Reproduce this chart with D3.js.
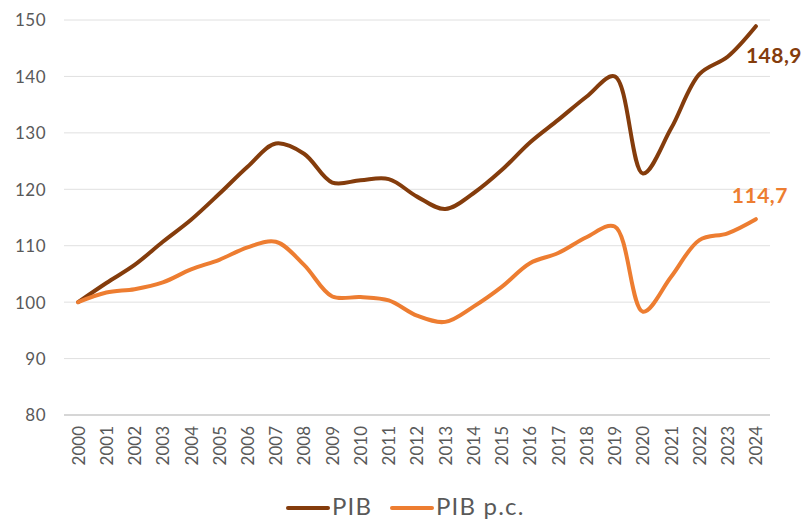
<!DOCTYPE html>
<html><head><meta charset="utf-8">
<script src="https://cdn.jsdelivr.net/npm/d3@7"></script>
<style>body{margin:0;background:#fff;} svg{display:block;font-family:Lato,"Open Sans",sans-serif;}</style>
</head><body>
<svg id="c" width="803" height="521"></svg>
<script>
const years = ["2000","2001","2002","2003","2004","2005","2006","2007","2008","2009","2010","2011","2012","2013","2014","2015","2016","2017","2018","2019","2020","2021","2022","2023","2024"];
const pib =   [100,103.4,106.6,110.7,114.6,119.2,124.0,128.1,126.3,121.2,121.6,121.8,118.7,116.5,119.3,123.4,128.3,132.3,136.4,140.0,122.8,130.8,140.4,143.5,148.9];
const pibPc = [100,101.7,102.3,103.5,105.8,107.5,109.7,110.7,106.6,101.0,100.9,100.3,97.6,96.5,99.2,102.7,106.9,108.7,111.5,113.4,98.3,104.5,111.0,112.2,114.7];
const yTicks = [80,90,100,110,120,130,140,150];
const seriesNames = ["PIB","PIB p.c."];
const endLabels = ["148,9","114,7"];
const colors = ["#843C0C","#ED7D31"];
const FONT = "Lato,'Open Sans',sans-serif";

const svg = d3.select("#c");
const x = d3.scalePoint().domain(years).range([64,770]).padding(0.5);
const y = d3.scaleLinear().domain([80,150]).range([415,20]);

// gridlines
svg.append("g").selectAll("line").data(yTicks).join("line")
  .attr("x1",64).attr("x2",770)
  .attr("y1",d=>y(d)).attr("y2",d=>y(d))
  .attr("stroke",d=>d===80?"#c8c8c8":"#e0e0e0")
  .attr("stroke-width",d=>d===80?1.5:1);

// y axis
const yAxis = svg.append("g").attr("transform","translate(46,0)")
  .call(d3.axisLeft(y).tickValues(yTicks).tickSize(0).tickPadding(0));
yAxis.select(".domain").remove();
yAxis.selectAll("text").attr("fill","#595959").style("font-size","17px").style("font-family",FONT).style("letter-spacing","0.5px").attr("dy","0.35em");

// x axis
const xAxis = svg.append("g").attr("transform","translate(0,426)")
  .call(d3.axisBottom(x).tickSize(0).tickPadding(0));
xAxis.select(".domain").remove();
xAxis.selectAll("text").attr("fill","#595959").style("font-size","17px").style("font-family",FONT)
  .attr("transform","rotate(-90)").attr("text-anchor","end").attr("x",0).attr("y",0).attr("dx",0).attr("dy","0.35em");

const line = d3.line().x((d,i)=>x(years[i])).y(d=>y(d)).curve(d3.curveCatmullRom.alpha(0.5));
[pib,pibPc].forEach((s,k)=>{
  svg.append("path").datum(s).attr("d",line).attr("fill","none")
    .attr("stroke",colors[k]).attr("stroke-width",4).attr("stroke-linecap","round").attr("stroke-linejoin","round");
});

// end labels
svg.append("text").attr("x",x("2024")-10).attr("y",y(pib[24])+37).text(endLabels[0])
  .attr("fill",colors[0]).style("font-size","21px").style("font-weight","bold").style("letter-spacing","0.5px");
svg.append("text").attr("x",x("2024")+4).attr("y",y(pibPc[24])-16).attr("text-anchor","middle").text(endLabels[1])
  .attr("fill",colors[1]).style("font-size","21px").style("font-weight","bold").style("letter-spacing","0.5px");

// legend
const leg = [{x:288,t:seriesNames[0]},{x:392,t:seriesNames[1]}];
leg.forEach((l,k)=>{
  svg.append("line").attr("x1",l.x).attr("x2",l.x+40).attr("y1",508).attr("y2",508)
    .attr("stroke",colors[k]).attr("stroke-width",4).attr("stroke-linecap","round");
  svg.append("text").attr("x",l.x+44).attr("y",515).text(l.t).attr("fill","#595959").style("font-size","24px").style("letter-spacing","1.2px");
});
</script>
</body></html>
